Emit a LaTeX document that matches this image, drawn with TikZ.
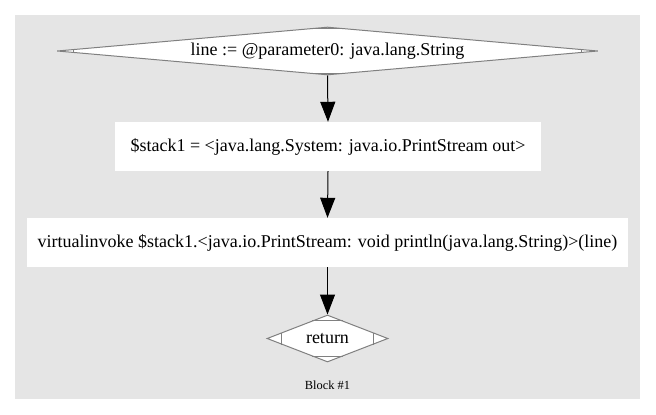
\documentclass[tikz,border=0pt]{standalone}
\usepackage{fontspec}
\setmainfont{Liberation Serif}
\usetikzlibrary{shapes.geometric,arrows.meta,calc}
\definecolor{clusterbg}{HTML}{E5E5E5}
\definecolor{outline}{HTML}{808080}
\tikzset{
  stmt/.style={rectangle, fill=white, draw=none, inner sep=0pt, font=\fontsize{18}{21}\selectfont},
  mdia/.style={diamond, fill=white, draw=outline, line width=1pt, inner sep=0pt, font=\fontsize{18}{21}\selectfont},
  flow/.style={draw=black, line width=1pt, -{Triangle[length=20pt,width=15pt]}},
  cornermark/.style={draw=outline, line width=1pt}
}
\begin{document}
\begin{tikzpicture}[x=1pt,y=-1pt]
\useasboundingbox (0,0) rectangle (656,415);
\fill[white] (0,0) rectangle (656,415);
\fill[clusterbg] (15,15) rectangle (640,399);

\node[mdia, minimum width=541pt, minimum height=48pt, aspect=11.27] (d1) at (327.5,51) {line := @parameter0: java.lang.String};
\node[stmt, minimum width=426pt, minimum height=49pt] (b2) at (328,146.5) {\$stack1 = <java.lang.System: java.io.PrintStream out>};
\node[stmt, minimum width=601pt, minimum height=49pt] (b3) at (327.5,242.5) {virtualinvoke \$stack1.<java.io.PrintStream: void println(java.lang.String)>(line)};
\node[mdia, minimum width=121pt, minimum height=47pt, aspect=2.57] (ret) at (327.5,338.5) {return};
\node[font=\fontsize{12.4}{14}\selectfont, inner sep=0pt] (lbl) at (327.5,385) {Block \#1};

% Mdiamond corner marks
\foreach \n/\f in {d1/0.063, ret/0.25} {
  \draw[cornermark] ($(\n.west)!\f!(\n.north)$) -- ($(\n.west)!\f!(\n.south)$);
  \draw[cornermark] ($(\n.east)!\f!(\n.north)$) -- ($(\n.east)!\f!(\n.south)$);
  \draw[cornermark] ($(\n.north)!\f!(\n.west)$) -- ($(\n.north)!\f!(\n.east)$);
  \draw[cornermark] ($(\n.south)!\f!(\n.west)$) -- ($(\n.south)!\f!(\n.east)$);
}

\draw[flow] (d1.south) -- (b2.north);
\draw[flow] (b2.south) -- (b3.north);
\draw[flow] (b3.south) -- (ret.north);
\end{tikzpicture}
\end{document}
